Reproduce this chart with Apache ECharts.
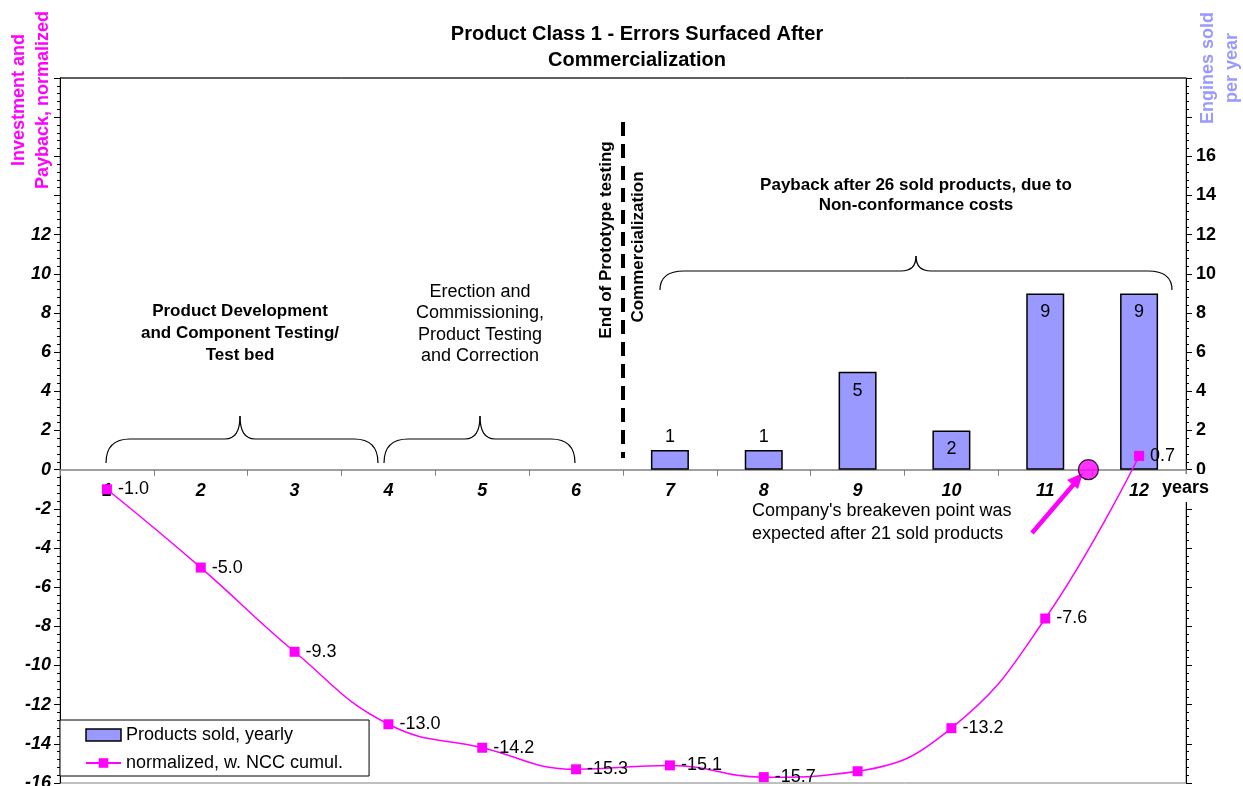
<!DOCTYPE html>
<html><head><meta charset="utf-8">
<script src="https://cdn.jsdelivr.net/npm/echarts@6/dist/echarts.min.js"></script>
<style>html,body{margin:0;padding:0;background:#fff}#c{width:1243px;height:786px}</style>
</head><body><div id="c"></div>
<script>
// ---- data ----
const years = ['1','2','3','4','5','6','7','8','9','10','11','12'];
const productsSold = [null,null,null,null,null,null,1,1,5,2,9,9];
const cumulative = [-1.0,-5.0,-9.3,-13.0,-14.2,-15.3,-15.1,-15.7,-15.4,-13.2,-7.6,0.7];
const cumulativeLabels = ['-1.0','-5.0','-9.3','-13.0','-14.2','-15.3','-15.1','-15.7','','-13.2','-7.6','0.7'];
const breakeven = [[11.46, 0]];
const leftLabelMax = 12;
const rightLabelMax = 16;

const FF = "'Liberation Sans', Arial, sans-serif";
const chart = echarts.init(document.getElementById('c'), null, {renderer: 'canvas'});

const barData = productsSold.map(v => v == null ? null : {
  value: v,
  label: {position: v === 1 ? 'top' : 'insideTop', distance: v === 1 ? 4 : 10}
});

function brace(x1, x2, xc, yEnd, yMid, yTip, r1, r2) {
  const st = {stroke: '#000', fill: null, lineWidth: 1.2};
  const q = (ax, ay, cx, cy, bx, by) => ({type: 'bezierCurve', shape: {x1: ax, y1: ay, cpx1: cx, cpy1: cy, x2: bx, y2: by}, style: st});
  const l = (ax, ay, bx, by) => ({type: 'line', shape: {x1: ax, y1: ay, x2: bx, y2: by}, style: st});
  return {type: 'group', children: [
    q(x1, yEnd, x1, yMid, x1 + r1, yMid),
    l(x1 + r1, yMid, xc - r2, yMid),
    q(xc - r2, yMid, xc, yMid, xc, yTip),
    q(xc, yTip, xc, yMid, xc + r2, yMid),
    l(xc + r2, yMid, x2 - r1, yMid),
    q(x2 - r1, yMid, x2, yMid, x2, yEnd)
  ]};
}

const option = {
  animation: false,
  backgroundColor: '#fff',
  textStyle: {fontFamily: FF},
  grid: {left: 60, right: 57, top: 78, bottom: 3, containLabel: false, outerBoundsMode: 'none',
    show: true, borderColor: '#808080', borderWidth: 1, backgroundColor: 'transparent'},
  legend: {
    left: 60, top: 720, orient: 'vertical',
    padding: [6, 26, 4, 25], itemGap: 10, itemWidth: 35, itemHeight: 12,
    borderColor: '#000', borderWidth: 1, backgroundColor: '#fff',
    textStyle: {fontFamily: FF, fontSize: 18, color: '#000'},
    data: [
      {name: 'Products sold, yearly', icon: 'rect', itemStyle: {color: '#9999FF', borderColor: '#000', borderWidth: 1.5}},
      {name: 'normalized, w. NCC cumul.'}
    ]
  },
  xAxis: [
    {
      type: 'category', data: years, boundaryGap: true, position: 'bottom', offset: 0,
      axisLine: {onZero: false, lineStyle: {color: '#808080', width: 1.5}},
      axisTick: {show: true, alignWithLabel: false, length: 6, lineStyle: {color: '#808080'}},
      axisLabel: {margin: 12, color: '#000', fontFamily: FF, fontSize: 18, fontWeight: 'bold', fontStyle: 'italic'},
      z: 1
    },
    {type: 'value', min: 0.5, max: 12.5, show: false}
  ],
  yAxis: [
    {
      type: 'value', min: -16, max: 20, interval: 2, position: 'left',
      splitLine: {show: false},
      axisLine: {show: true, lineStyle: {color: '#000'}},
      axisTick: {show: true, length: 6, lineStyle: {color: '#000'}},
      minorTick: {show: true, splitNumber: 5, length: 3, lineStyle: {color: '#000'}},
      axisLabel: {color: '#000', fontFamily: FF, fontSize: 18, fontWeight: 'bold', fontStyle: 'italic', margin: 9,
        formatter: v => v > leftLabelMax ? '' : String(v)}
    },
    {
      type: 'value', min: -16, max: 20, interval: 2, position: 'right',
      splitLine: {show: false},
      axisLine: {show: true, lineStyle: {color: '#000'}},
      axisTick: {show: true, length: 6, lineStyle: {color: '#000'}},
      minorTick: {show: true, splitNumber: 5, length: 3, lineStyle: {color: '#000'}},
      axisLabel: {color: '#000', fontFamily: FF, fontSize: 18, fontWeight: 'bold', margin: 10,
        formatter: v => (v < 0 || v > rightLabelMax) ? '' : String(v)}
    }
  ],
  series: [
    {
      name: 'Products sold, yearly', type: 'bar', xAxisIndex: 0, yAxisIndex: 1,
      data: barData, barWidth: 38,
      itemStyle: {color: '#9999FF', borderColor: '#000', borderWidth: 1.5},
      label: {show: true, color: '#000', fontFamily: FF, fontSize: 18},
      z: 2
    },
    {
      name: 'normalized, w. NCC cumul.', type: 'line', xAxisIndex: 0, yAxisIndex: 0,
      data: cumulative, smooth: 0.45,
      symbol: 'rect', symbolSize: 10, showAllSymbol: true,
      lineStyle: {color: '#FF00FF', width: 1.5},
      itemStyle: {color: '#FF00FF'},
      label: {show: true, position: 'right', distance: 6, color: '#000', fontFamily: FF, fontSize: 18,
        formatter: p => cumulativeLabels[p.dataIndex]},
      z: 3
    },
    {
      name: 'breakeven', type: 'scatter', xAxisIndex: 1, yAxisIndex: 0,
      data: breakeven, symbol: 'circle', symbolSize: 20,
      itemStyle: {color: '#FF00FF', borderColor: '#000', borderWidth: 1.2},
      z: 4
    }
  ],
  graphic: [
    // plot top border
    {type: 'line', shape: {x1: 60, y1: 78, x2: 1186, y2: 78}, style: {stroke: '#000', lineWidth: 1}},
    // title
    {type: 'text', x: 637, y: 21, style: {text: 'Product Class 1 - Errors Surfaced After\nCommercialization',
      fill: '#000', font: `bold 20px ${FF}`, textAlign: 'center', lineHeight: 26}},
    // left axis name
    {type: 'text', x: 31, y: 100, rotation: Math.PI / 2, style: {text: 'Investment and\nPayback, normalized',
      fill: '#FF00FF', font: `bold 18px ${FF}`, textAlign: 'center', textVerticalAlign: 'middle', lineHeight: 24}},
    // right axis name
    {type: 'text', x: 1220, y: 68, rotation: Math.PI / 2, style: {text: 'Engines sold\nper year',
      fill: '#9999FF', font: `bold 18px ${FF}`, textAlign: 'center', textVerticalAlign: 'middle', lineHeight: 24}},
    // years
    {type: 'text', x: 1160, y: 488, z: 100, style: {text: 'years', fill: '#000', font: `bold 18px ${FF}`,
      textVerticalAlign: 'middle', backgroundColor: '#fff', padding: [9, 2, 1, 2]}},
    // dashed milestone line
    {type: 'line', shape: {x1: 623, y1: 122, x2: 623, y2: 458}, style: {stroke: '#000', lineWidth: 4, lineDash: [14, 8]}},
    {type: 'text', x: 606, y: 240, rotation: Math.PI / 2, style: {text: 'End of Prototype testing',
      fill: '#000', font: `bold 17px ${FF}`, textAlign: 'center', textVerticalAlign: 'middle'}},
    {type: 'text', x: 638, y: 247, rotation: Math.PI / 2, style: {text: 'Commercialization',
      fill: '#000', font: `bold 17px ${FF}`, textAlign: 'center', textVerticalAlign: 'middle'}},
    // braces
    brace(106, 378, 240, 463, 439, 416, 24, 15),
    brace(384, 575, 480, 463, 439, 416, 24, 15),
    brace(660, 1172, 916, 290, 271, 256, 24, 15),
    // phase texts
    {type: 'text', x: 240, y: 333, style: {text: 'Product Development\nand Component Testing/\nTest bed',
      fill: '#000', font: `bold 17px ${FF}`, textAlign: 'center', textVerticalAlign: 'middle', lineHeight: 22}},
    {type: 'text', x: 480, y: 324, style: {text: 'Erection and\nCommissioning,\nProduct Testing\nand Correction',
      fill: '#000', font: `18px ${FF}`, textAlign: 'center', textVerticalAlign: 'middle', lineHeight: 21.5}},
    {type: 'rect', shape: {x: 400, y: 393, width: 160, height: 10}, style: {fill: '#fff'}, z: 10},
    {type: 'text', x: 916, y: 195, style: {text: 'Payback after 26 sold products, due to\nNon-conformance costs',
      fill: '#000', font: `bold 17px ${FF}`, textAlign: 'center', textVerticalAlign: 'middle', lineHeight: 20}},
    // breakeven annotation
    {type: 'text', x: 752, y: 523, style: {text: "Company's breakeven point was\nexpected after 21 sold products",
      fill: '#000', font: `18px ${FF}`, textAlign: 'left', textVerticalAlign: 'middle', lineHeight: 23}},
    {type: 'line', shape: {x1: 1032, y1: 533, x2: 1074, y2: 484}, style: {stroke: '#FF00FF', lineWidth: 4.5}},
    {type: 'polygon', shape: {points: [[1083, 473], [1078, 489], [1067, 480]]}, style: {fill: '#FF00FF'}}
  ]
};
chart.setOption(option);
// move the category axis (line + labels) onto the value 0 line of the left axis
const zeroY = chart.convertToPixel({yAxisIndex: 0}, 0);
const gridBottomY = chart.convertToPixel({yAxisIndex: 0}, -16);
chart.setOption({xAxis: [{offset: -(gridBottomY - zeroY)}, {}]});
</script></body></html>
